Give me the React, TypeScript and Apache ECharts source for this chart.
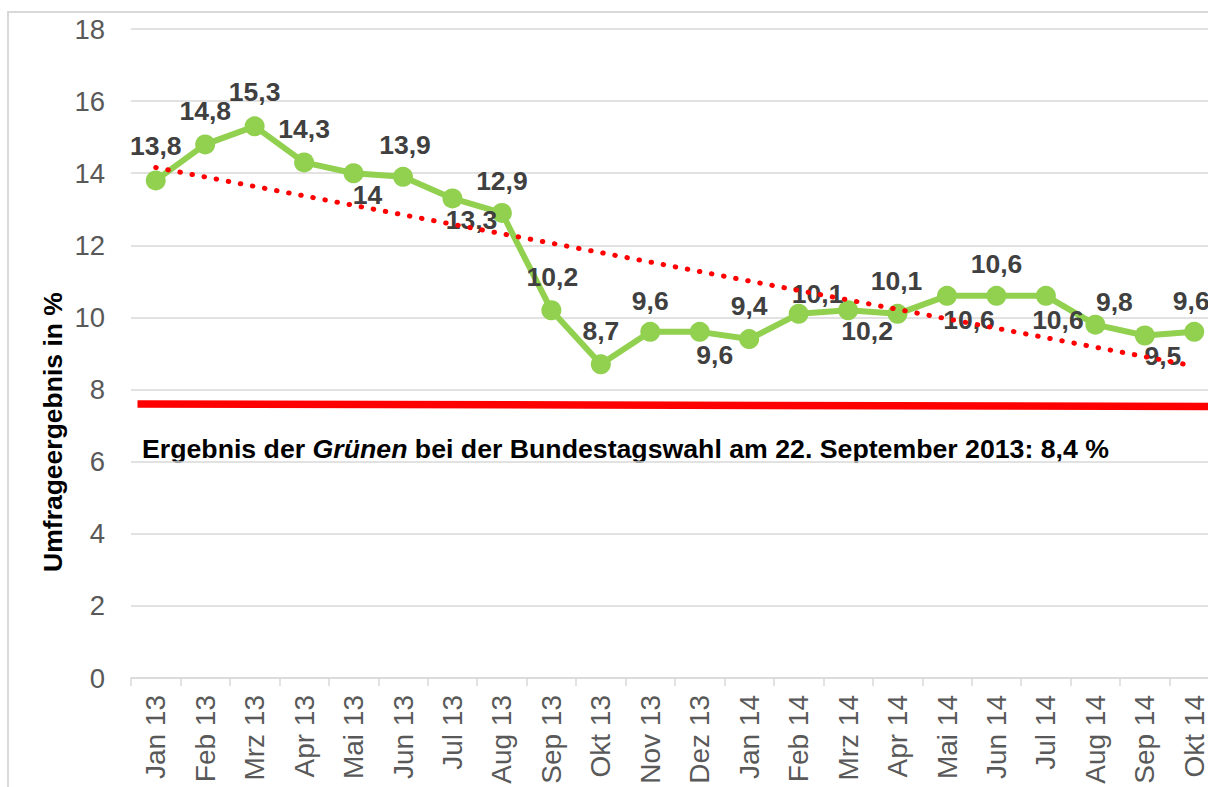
import React, { useEffect, useRef } from "react";
import * as echarts from "echarts";

const categories = [
  "Jan 13", "Feb 13", "Mrz 13", "Apr 13", "Mai 13", "Jun 13", "Jul 13", "Aug 13",
  "Sep 13", "Okt 13", "Nov 13", "Dez 13", "Jan 14", "Feb 14", "Mrz 14", "Apr 14",
  "Mai 14", "Jun 14", "Jul 14", "Aug 14", "Sep 14", "Okt 14",
];
const values = [
  13.8, 14.8, 15.3, 14.3, 14, 13.9, 13.3, 12.9, 10.2, 8.7, 9.6, 9.6, 9.4, 10.1,
  10.2, 10.1, 10.6, 10.6, 10.6, 9.8, 9.5, 9.6,
];
// red reference line (as drawn), start and end value
const electionLine = [7.6, 7.53];
const yTicks = { min: 0, max: 18, interval: 2 };

// label placement (style only)
const labelOffsets: [number, number][] = [
  [0, -34], [0, -33], [0, -34], [0, -33], [14, 22], [2, -32], [19, 22], [0, -32],
  [1, -33], [0, -33], [0, -31], [15, 23], [0, -33], [19, -20], [19, 21], [-1, -33],
  [22, 24], [0, -32], [12, 24], [19, -23], [18, 21], [-3, -31],
];

const FONT = "'Liberation Sans', Arial, sans-serif";

function linearTrend(ys: number[]) {
  const n = ys.length;
  const mx = (n - 1) / 2;
  const my = ys.reduce((a, b) => a + b, 0) / n;
  let sxy = 0;
  let sxx = 0;
  ys.forEach((y, i) => {
    sxy += (i - mx) * (y - my);
    sxx += (i - mx) * (i - mx);
  });
  const slope = sxy / sxx;
  const intercept = my - slope * mx;
  return { start: intercept, end: intercept + slope * (n - 1) };
}

export default function App() {
  const ref = useRef<HTMLDivElement>(null);

  useEffect(() => {
    if (!ref.current) return;
    const chart = echarts.init(ref.current, undefined, { renderer: "svg" });
    const trend = linearTrend(values);
    const fmt = (v: number) => String(v).replace(".", ",");

    chart.setOption({
      animation: false,
      backgroundColor: "#ffffff",
      grid: {
        left: 131,
        top: 29,
        width: 1088,
        height: 649,
        containLabel: false,
        outerBoundsMode: "none",
      },
      xAxis: [
        {
          type: "category",
          data: categories,
          boundaryGap: true,
          axisLine: { lineStyle: { color: "#D9D9D9", width: 1.5 } },
          axisTick: { show: true, length: 8, lineStyle: { color: "#D9D9D9", width: 1.5 } },
          axisLabel: {
            rotate: 90,
            interval: 0,
            margin: 17,
            color: "#595959",
            fontSize: 28,
            fontFamily: FONT,
          },
          splitLine: { show: false },
        },
        { type: "value", min: 0, max: 1, show: false },
      ],
      yAxis: {
        type: "value",
        min: yTicks.min,
        max: yTicks.max,
        interval: yTicks.interval,
        axisLine: { show: false },
        axisTick: { show: false },
        axisLabel: { color: "#595959", fontSize: 27.5, fontFamily: FONT, margin: 26 },
        splitLine: { lineStyle: { color: "#D9D9D9", width: 1.5 } },
      },
      series: [
        {
          type: "line",
          xAxisIndex: 1,
          data: [
            [0.006, electionLine[0]],
            [1, electionLine[1]],
          ],
          symbol: "none",
          lineStyle: { color: "#FF0000", width: 7.5 },
          silent: true,
          z: 1,
        },
        {
          type: "line",
          data: values.map((v, i) => ({
            value: v,
            label: { offset: labelOffsets[i] },
          })),
          symbol: "circle",
          symbolSize: 20,
          itemStyle: { color: "#92D050" },
          lineStyle: { color: "#92D050", width: 6 },
          label: {
            show: true,
            position: "inside",
            formatter: (p: any) => fmt(p.value),
            color: "#404040",
            fontSize: 26.5,
            fontWeight: "bold",
            fontFamily: FONT,
            align: "center",
            verticalAlign: "middle",
          },
          markLine: {
            silent: true,
            symbol: "none",
            label: { show: false },
            lineStyle: { color: "#FF0000", width: 5, type: [0.5, 11.8], cap: "round" },
            data: [[{ coord: [0, trend.start] }, { coord: [values.length - 1, trend.end] }]],
          },
          z: 3,
        },
      ],
      graphic: [
        {
          type: "rect",
          shape: { x: 8, y: 12, width: 1400, height: 1000 },
          style: { fill: "none", stroke: "#D9D9D9", lineWidth: 2 },
          silent: true,
        },
        {
          type: "text",
          x: 53,
          y: 432,
          rotation: Math.PI / 2,
          style: {
            text: "Umfrageergebnis in %",
            fill: "#000000",
            font: `bold 26.5px ${FONT}`,
            align: "center",
            verticalAlign: "middle",
          },
        },
        {
          type: "text",
          x: 142,
          y: 449,
          style: {
            text: "Ergebnis der {i|Grünen} bei der Bundestagswahl am 22. September 2013: 8,4 %",
            fill: "#000000",
            font: `bold 26.7px ${FONT}`,
            align: "left",
            verticalAlign: "middle",
            rich: {
              i: {
                fontStyle: "italic",
                fontWeight: "bold",
                fontSize: 26.7,
                fontFamily: FONT,
                fill: "#000000",
              },
            },
          },
        },
      ],
    });

    return () => chart.dispose();
  }, []);

  return (
    <div
      style={{
        position: "fixed",
        left: 0,
        top: 0,
        width: 1208,
        height: 787,
        overflow: "hidden",
        background: "#fff",
      }}
    >
      <div ref={ref} style={{ width: 1222, height: 787 }} />
    </div>
  );
}
